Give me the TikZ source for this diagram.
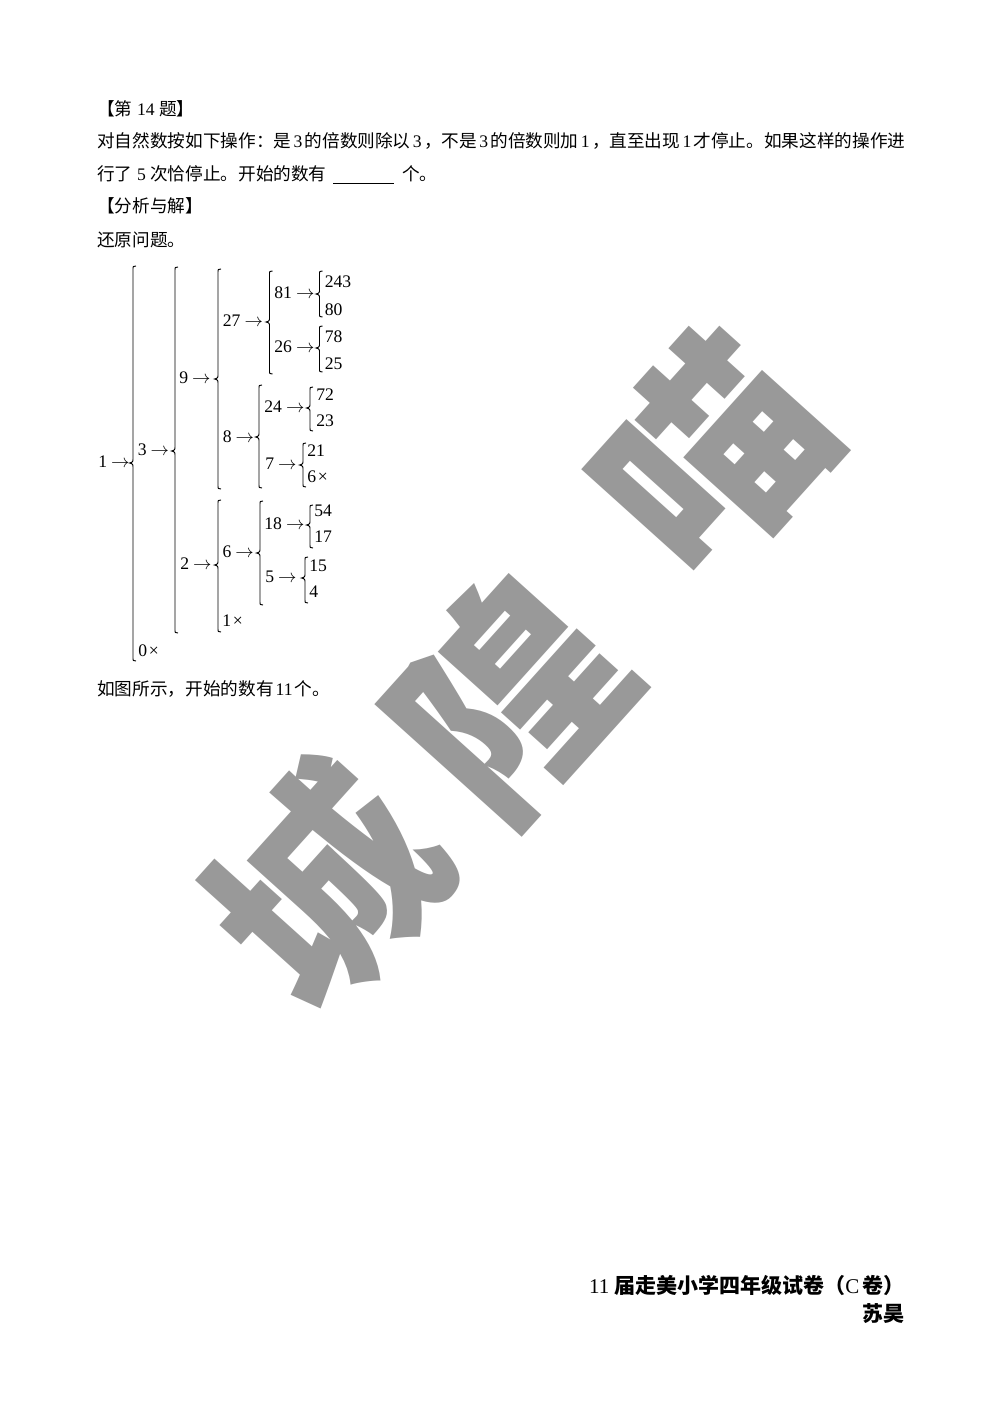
\documentclass[tikz,border=0pt]{standalone}
\usepackage{fontspec}
\setmainfont{Liberation Serif}
\newfontfamily\cjk{Noto Sans CJK SC}
\definecolor{wmgray}{RGB}{153,153,153}
\newcommand\fs{\fontsize{10.5}{12.6}\selectfont}
\newcommand\nm[1]{\hspace{1.2pt plus 1fil}{\rmfamily #1}\hspace{1.2pt plus 1fil}}
\newcommand\ar{\kern2.4pt$\rightarrow$}
\newcommand\brc[4]{\draw[bracestyle] ({#1+3},#2) .. controls (#1,#2) .. (#1,{#2+4}) -- (#1,{#3-5}) .. controls (#1,{#3-1}) .. ({#1-3.5},#3) .. controls (#1,{#3+1}) .. (#1,{#3+5}) -- (#1,{#4-4}) .. controls (#1,#4) .. ({#1+3},#4);}
\begin{document}
\begin{tikzpicture}[x=0.5953pt,y=-0.5953pt,
  tn/.style={anchor=base west,inner sep=0pt,font=\fs},
  foot/.style={anchor=base east,inner sep=0pt,font=\fontsize{12.5}{15}\selectfont},
  wmark/.style={rotate=48,text=wmgray,inner sep=0pt,font=\fontsize{130}{130}\selectfont\cjk\bfseries},
  bracestyle/.style={line width=0.55pt}]
\useasboundingbox (0,0) rectangle (1000,1415);
\fill[white] (0,0) rectangle (1000,1415);
% watermark
\node[wmark] (wm1) at (325,885) {城};
\node[wmark] (wm2) at (508,698) {隍};
\node[wmark] (wm3) at (712,455) {喵};
% question text
\node[tn] (h1) at (97,116) {\cjk 【第{\rmfamily\ 14\ }题】};
\node[tn] (l1) at (97,148) {\cjk\makebox[481pt][s]{对自然数按如下操作：是\nm{3}的倍数则除以\nm{3}，不是\nm{3}的倍数则加\nm{1}，直至出现\nm{1}才停止。如果这样的操作进}};
\node[tn] (l2) at (97,181) {\cjk 行了{\rmfamily\ 5\ }次恰停止。开始的数有\hspace{4pt}\underline{\hspace{36pt}}\hspace{5pt}个。};
\node[tn] (h2) at (97,213) {\cjk 【分析与解】};
\node[tn] (l3) at (97,246) {\cjk 还原问题。};
% tree
\node[tn] (n1) at (98,467.5) {1\ar};
\node[tn] (n3) at (137.5,455.5) {3\ar};
\node[tn] (n0) at (138,656.5) {0\kern1pt×};
\node[tn] (n9) at (179,383.5) {9\ar};
\node[tn] (n2) at (180,569.5) {2\ar};
\node[tn] (n27) at (222.5,326.5) {27\ar};
\node[tn] (n8) at (222.5,442.5) {8\ar};
\node[tn] (n6) at (222.3,557.5) {6\ar};
\node[tn] (n1x) at (222,626) {1\kern1pt×};
\node[tn] (n81) at (274,298.5) {81\ar};
\node[tn] (n26) at (274,352.5) {26\ar};
\node[tn] (n24) at (264,412.5) {24\ar};
\node[tn] (n7) at (265,469) {7\ar};
\node[tn] (n18) at (264,529.5) {18\ar};
\node[tn] (n5) at (265,582.5) {5\ar};
\node[tn] (n243) at (324.5,287) {243};
\node[tn] (n80) at (324.5,315) {80};
\node[tn] (n78) at (324.5,342) {78};
\node[tn] (n25) at (324.5,369) {25};
\node[tn] (n72) at (316,400) {72};
\node[tn] (n23) at (316,426.5) {23};
\node[tn] (n21) at (307,456) {21};
\node[tn] (n6x) at (307,482.5) {6\kern1pt×};
\node[tn] (n54) at (314,516) {54};
\node[tn] (n17) at (314,542) {17};
\node[tn] (n15) at (309,571) {15};
\node[tn] (n4) at (309,597) {4};
% braces
\brc{133}{266}{463}{661}
\brc{175}{267}{451}{633}
\brc{218}{269}{379}{489}
\brc{218}{500}{565}{632}
\brc{269.5}{271}{322}{374}
\brc{259}{385}{437}{488}
\brc{260}{501}{553}{605}
\brc{319.5}{271}{294}{317}
\brc{319.5}{326}{348}{372}
\brc{310}{387}{408}{431}
\brc{303}{443}{465}{487}
\brc{310}{505}{525}{548}
\brc{305}{557}{578}{603}
\node[tn] (fin) at (97,695) {\cjk 如图所示，开始的数有\nm{11}个。};
% footer
\node[foot] (ft1) at (905,1293) {11\hspace{3pt}{\cjk\bfseries 届走美小学四年级试卷（}C\hspace{2pt}{\cjk\bfseries 卷）}};
\node[foot] (ft2) at (905,1321) {\cjk\bfseries 苏昊};
\end{tikzpicture}
\end{document}
